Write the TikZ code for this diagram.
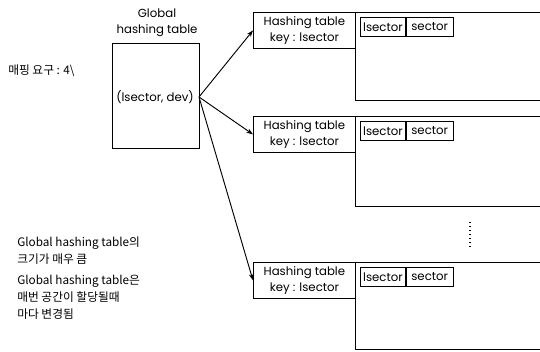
\documentclass[tikz,border=0pt]{standalone}
\usepackage{fontspec}
\setmainfont{Poppins}
\newfontfamily\kr{Noto Sans CJK KR}
\usetikzlibrary{arrows.meta}
\begin{document}
\begin{tikzpicture}[x=0.75pt,y=-0.75pt,
  box/.style={draw,line width=0.6pt},
  txt/.style={font=\fontsize{8.8}{12}\selectfont,inner sep=0pt},
  krtxt/.style={font=\fontsize{8.8}{12.6}\selectfont\kr,inner sep=0pt,align=left},
  link/.style={line width=0.7pt,-{Stealth[length=5pt,width=3.5pt]}}]
\useasboundingbox (0,0) rectangle (540,352);

% global table
\node[txt,align=center] (gtitle) at (157,23) {Global\\hashing table};
\draw[box] (112,43) rectangle (199,148);
\node[txt] (gkey) at (155,97) {(lsector, dev)};
\coordinate (gout) at (199,97);
\node[krtxt,anchor=west] (req) at (8,71) {매핑 요구 : 4\textbackslash};

% notes
\node[krtxt,anchor=north west] (note1) at (17,237) {Global hashing table의\\크기가 매우 큼};
\node[krtxt,anchor=north west] (note2) at (17,275) {Global hashing table은\\매번 공간이 할당될때\\마다 변경됨};

% hashing tables
\foreach \n/\y/\h in {1/12/88, 2/116/90, 3/262/87}{
  \node[box,txt,align=center,minimum width=102*0.75pt,minimum height=36*0.75pt,anchor=north west,inner sep=0pt]
    (ht\n) at (253,\y) {Hashing table\\key : lsector};
  \draw[box] (540,\y) -- (355,\y) -- (355,\y+\h) -- (540,\y+\h);
  \node[box,txt,minimum width=45*0.75pt,minimum height=19*0.75pt,anchor=north west]
    (ls\n) at (360,\y+5) {lsector};
  \node[box,txt,minimum width=47*0.75pt,minimum height=19*0.75pt,anchor=north west]
    (sc\n) at (ls\n.north east) {sector};
}

\draw[link] (gout) -- (ht1.west);
\draw[link] (gout) -- (ht2.west);
\draw[link] (gout) -- (ht3.west);

% continuation dots
\draw[line width=1pt,dotted] (470,222) -- (470,250);
\end{tikzpicture}
\end{document}
